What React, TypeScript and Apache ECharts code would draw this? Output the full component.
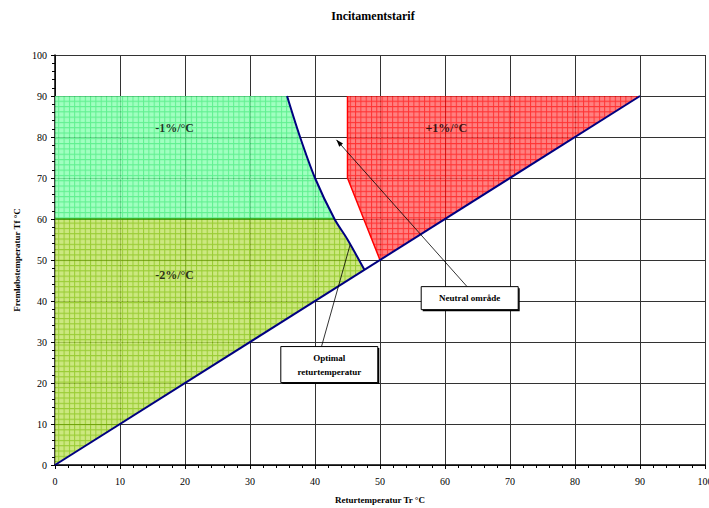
import React, { useEffect, useRef } from "react";
import * as echarts from "echarts";

// ---- data ----
const diagonalLine = [[0, 0], [90, 90]];
const optimalCurve = [[35.7, 90], [37.7, 80], [40, 70], [43, 60], [45, 55], [47.6, 47.6]];
const mintRegion = [[0, 90], [35.7, 90], [37.7, 80], [40, 70], [43, 60], [0, 60]];
const oliveRegion = [[0, 60], [43, 60], [45, 55], [47.6, 47.6], [0, 0]];
const redRegion = [[45, 90], [90, 90], [50, 50], [45, 70]];
const redEdge = [[45, 90], [45, 70], [50, 50]];
const boundary60 = [[0, 60], [43, 60]];
const zoneLabelNames = ["-1%/°C", "+1%/°C", "-2%/°C"];
const zoneLabelPos = [[18.4, 82.2], [60.2, 82.2], [18.4, 46.3]];
const noteTexts = ["Neutral område", "Optimal\nreturtemperatur"];
const noteBoxCenters = [[63.8, 40.7], [42.2, 24.5]];
const noteLineFrom = [[63.4, 43.5], [41.0, 28.9]];
const noteLineTo = [[43.3, 79.3], [45.4, 53.7]];
const noteArrow = [true, false];

const FONT = '"Liberation Serif", "Times New Roman", serif';

function hatch(bg: string, line: string, size = 5.3) {
  const svg =
    `<svg xmlns='http://www.w3.org/2000/svg' width='${size}' height='${size}'>` +
    `<rect width='${size}' height='${size}' fill='${bg}'/>` +
    `<path d='M0 0.5H${size}M0.5 0V${size}' stroke='${line}' stroke-width='1' fill='none'/></svg>`;
  return {
    image: "data:image/svg+xml;charset=utf-8," + encodeURIComponent(svg),
    repeat: "repeat",
    imageWidth: size,
    imageHeight: size,
  };
}

const regions = [
  { pts: mintRegion, fill: hatch("#88FFB0", "#38EC74") },
  { pts: oliveRegion, fill: hatch("#BFE260", "#7FBF00") },
  { pts: redRegion, fill: hatch("#FF6060", "#FF0000") },
];

export default function App() {
  const ref = useRef<HTMLDivElement>(null);
  useEffect(() => {
    if (!ref.current) return;
    const chart = echarts.init(ref.current, null, { renderer: "svg" });
    const axisCommon = {
      type: "value",
      min: 0,
      max: 100,
      interval: 10,
      axisLine: { show: true, onZero: false, lineStyle: { color: "#000", width: 1.5 } },
      axisTick: { show: true, inside: false, length: 4, lineStyle: { color: "#000" } },
      minorTick: { show: true, splitNumber: 5, length: 3, lineStyle: { color: "#000" } },
      splitLine: { show: true, lineStyle: { color: "#333", width: 1 } },
      nameLocation: "middle",
      nameTextStyle: { fontFamily: FONT, fontWeight: "bold", fontSize: 9, color: "#000" },
      axisLabel: { fontFamily: FONT, fontSize: 10, color: "#000" },
    };
    chart.setOption({
      animation: false,
      backgroundColor: "#fff",
      title: {
        text: "Incitamentstarif",
        left: 373,
        top: 10,
        padding: 0,
        textAlign: "center",
        textStyle: { fontFamily: FONT, fontWeight: "bold", fontSize: 12, color: "#000" },
      },
      grid: {
        left: 55,
        right: 4,
        top: 55,
        bottom: 43,
        containLabel: false,
        outerBoundsMode: "none",
      },
      xAxis: {
        ...axisCommon,
        name: "Returtemperatur Tr °C",
        nameGap: 30,
        axisLabel: { ...axisCommon.axisLabel, margin: 11 },
      },
      yAxis: {
        ...axisCommon,
        name: "Fremløbstemperatur Tf °C",
        nameGap: 31,
        axisLabel: { ...axisCommon.axisLabel, margin: 8 },
      },
      series: [
        {
          type: "custom",
          coordinateSystem: "cartesian2d",
          clip: false,
          z: 1,
          silent: true,
          data: regions.map((r) => r.pts[0]),
          renderItem: (params: any, api: any) => {
            const r = regions[params.dataIndex];
            return {
              type: "polygon",
              shape: { points: r.pts.map((p) => api.coord(p)) },
              style: { fill: r.fill, opacity: 0.8, stroke: "none" },
            };
          },
        },
        {
          type: "line",
          data: redEdge,
          symbol: "none",
          z: 2,
          lineStyle: { color: "#FF0000", width: 1.5 },
        },
        {
          type: "line",
          data: boundary60,
          symbol: "none",
          z: 2,
          lineStyle: { color: "#2E9A00", width: 1.5 },
        },
        {
          type: "line",
          data: diagonalLine,
          symbol: "none",
          z: 3,
          lineStyle: { color: "#000080", width: 2 },
        },
        {
          type: "line",
          data: optimalCurve,
          symbol: "none",
          smooth: 0.3,
          z: 3,
          lineStyle: { color: "#000080", width: 2 },
        },
        {
          type: "scatter",
          symbolSize: 0,
          z: 4,
          data: zoneLabelNames.map((n, i) => ({ name: n, value: zoneLabelPos[i] })),
          label: {
            show: true,
            position: "inside",
            formatter: "{b}",
            fontFamily: FONT,
            fontWeight: "bold",
            fontSize: 12,
            color: "#000",
          },
        },
        {
          type: "custom",
          coordinateSystem: "cartesian2d",
          clip: false,
          z: 5,
          silent: true,
          data: noteBoxCenters,
          renderItem: (params: any, api: any) => {
            const i = params.dataIndex;
            const c = api.coord(noteBoxCenters[i]);
            const a = api.coord(noteLineFrom[i]);
            const b = api.coord(noteLineTo[i]);
            const w = 97;
            const h = i === 0 ? 23 : 36;
            const children: any[] = [
              {
                type: "line",
                shape: { x1: a[0], y1: a[1], x2: b[0], y2: b[1] },
                style: { stroke: "#000", lineWidth: 0.8 },
              },
            ];
            if (noteArrow[i]) {
              const dx = b[0] - a[0];
              const dy = b[1] - a[1];
              const len = Math.sqrt(dx * dx + dy * dy);
              const ux = dx / len;
              const uy = dy / len;
              const hl = 7;
              const hw = 2.5;
              const bx = b[0] - ux * hl;
              const by = b[1] - uy * hl;
              children.push({
                type: "polygon",
                shape: {
                  points: [
                    [b[0], b[1]],
                    [bx - uy * hw, by + ux * hw],
                    [bx + uy * hw, by - ux * hw],
                  ],
                },
                style: { fill: "#000" },
              });
            }
            children.push(
              {
                type: "rect",
                shape: { x: c[0] - w / 2 + 1.5, y: c[1] - h / 2 + 1.5, width: w, height: h },
                style: { fill: "#000" },
              },
              {
                type: "rect",
                shape: { x: c[0] - w / 2, y: c[1] - h / 2, width: w, height: h },
                style: { fill: "#fff", stroke: "#000", lineWidth: 1 },
              },
              {
                type: "text",
                style: {
                  text: noteTexts[i],
                  x: c[0],
                  y: c[1],
                  align: "center",
                  verticalAlign: "middle",
                  fontFamily: FONT,
                  fontWeight: "bold",
                  fontSize: 9,
                  lineHeight: 14,
                  fill: "#000",
                },
              }
            );
            return { type: "group", children };
          },
        },
      ],
    });
    return () => chart.dispose();
  }, []);
  return (
    <div
      ref={ref}
      style={{ position: "fixed", left: 0, top: 0, width: 709, height: 508 }}
    />
  );
}
